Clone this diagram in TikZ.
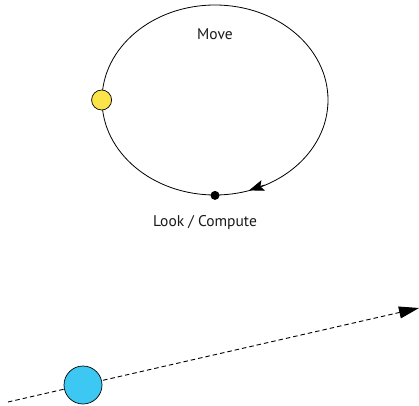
\documentclass[tikz,border=0pt]{standalone}
\usepackage{fontspec}
\setmainfont{PT Sans}
\usetikzlibrary{arrows.meta,shapes.geometric}
\definecolor{sunyellow}{HTML}{FBE44A}
\definecolor{skyblue}{HTML}{3CC8F2}
\tikzset{
  orbitline/.style={draw=black,line width=0.8pt},
  label/.style={font=\fontsize{15.5}{18}\selectfont,text=black!90,inner sep=0pt},
  ball/.style={circle,draw=black,line width=0.7pt,inner sep=0pt},
  pathline/.style={line width=0.9pt,dash pattern=on 4.5pt off 3pt}
}
\begin{document}
\begin{tikzpicture}[x=1pt,y=1pt]
\useasboundingbox (0,0) rectangle (419,405);
% orbit
\node[orbitline,ellipse,minimum width=226pt,minimum height=190pt,inner sep=0pt] (orbit) at (215,305) {};
\node[label] (move) at (215,371) {Move};
\node[label] (look) at (205,182) {Look / Compute};
\node[ball,fill=sunyellow,minimum size=20pt] (robot) at (orbit.west) {};
\node[circle,fill=black,inner sep=0pt,minimum size=9pt] (dot) at (orbit.south) {};
\coordinate (abase) at (264.5,220);
\coordinate (atip) at (249,214.6);
\draw[-{Stealth[length=15pt,width=11pt,inset=3pt]},line width=0.8pt] (abase) -- (atip);
% trajectory
\coordinate (start) at (8,3);
\coordinate (end) at (419,97);
\draw[pathline,-{Triangle[length=20pt,width=12pt]}] (start) -- (end);
\node[ball,fill=skyblue,minimum size=38pt] (blue) at (83,20) {};
\end{tikzpicture}
\end{document}
